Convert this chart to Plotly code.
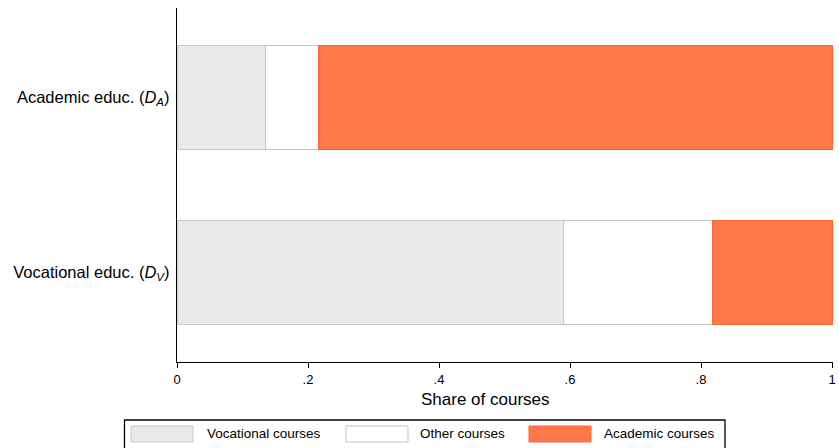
import plotly.graph_objects as go

categories = ["Vocational educ. (<i>D</i><sub><i>V</i></sub>)", "Academic educ. (<i>D</i><sub><i>A</i></sub>)"]
cat_pos = [0, 1]
vocational_share = [0.590, 0.135]
other_share = [0.227, 0.081]
academic_share = [0.183, 0.784]
series_names = ["Vocational courses", "Other courses", "Academic courses"]
fill_colors = ["#EAEAEA", "#FFFFFF", "#FF7849"]
line_colors = ["#C9C9C9", "#C2C2C2", "#FF6530"]
x_tickvals = [0, 0.2, 0.4, 0.6, 0.8, 1]
x_ticktext = ["0", ".2", ".4", ".6", ".8", "1"]
x_title = "Share of courses"

W, H = 839, 448
L, R, T, B = 177, 6, 8, 86
PW, PH = W - L - R, H - T - B

def px(x):
    return (x - L) / PW

def py(y):
    return (H - B - y) / PH

fig = go.Figure()
for name, vals, fc, lc in zip(series_names, [vocational_share, other_share, academic_share], fill_colors, line_colors):
    fig.add_trace(go.Bar(
        y=cat_pos, x=vals, orientation="h", name=name,
        marker=dict(color=fc, line=dict(color=lc, width=1)),
        width=0.594, showlegend=False,
    ))

fig.update_layout(
    barmode="stack",
    width=W, height=H,
    margin=dict(l=L, r=R, t=T, b=B, autoexpand=False),
    plot_bgcolor="white", paper_bgcolor="white",
    font=dict(family="Liberation Sans, Arial, sans-serif", color="#000000"),
    xaxis=dict(
        range=[0, 1.0015], tickvals=x_tickvals, ticktext=x_ticktext,
        showline=True, linecolor="black", linewidth=1.3,
        ticks="outside", ticklen=5, tickcolor="black", automargin=False,
        showgrid=False, zeroline=False, tickfont=dict(size=13),
    ),
    yaxis=dict(
        range=[-0.514, 1.509], tickvals=cat_pos, ticktext=categories,
        showline=True, linecolor="black", linewidth=1.3, automargin=False,
        ticks="", showgrid=False, zeroline=False,
        tickfont=dict(size=16.5), ticklabelstandoff=3,
    ),
)

shapes = []
annotations = []
# x-axis title (Stata places it slightly left of center)
annotations.append(dict(xref="paper", yref="paper", x=px(485), y=py(399),
                        text=x_title, showarrow=False, xanchor="center", yanchor="middle",
                        font=dict(size=17)))
# legend box
shapes.append(dict(type="rect", xref="paper", yref="paper",
                   x0=px(124.5), x1=px(725), y0=py(452), y1=py(420),
                   line=dict(color="black", width=1.3), fillcolor="white", layer="below"))
swatch_x = [131, 346, 529]
text_x = [205, 418, 602]
for i, name in enumerate(series_names):
    shapes.append(dict(type="rect", xref="paper", yref="paper",
                       x0=px(swatch_x[i]), x1=px(swatch_x[i] + 62), y0=py(442), y1=py(426),
                       line=dict(color=line_colors[i], width=1), fillcolor=fill_colors[i]))
    annotations.append(dict(xref="paper", yref="paper", x=px(text_x[i]), y=py(434),
                            text=name, showarrow=False, xanchor="left", yanchor="middle",
                            font=dict(size=13.5)))
fig.update_layout(shapes=shapes, annotations=annotations)

fig.write_html("out.html", config={"displayModeBar": False},
               post_script="document.body.style.margin='0';document.body.style.overflow='hidden';")
